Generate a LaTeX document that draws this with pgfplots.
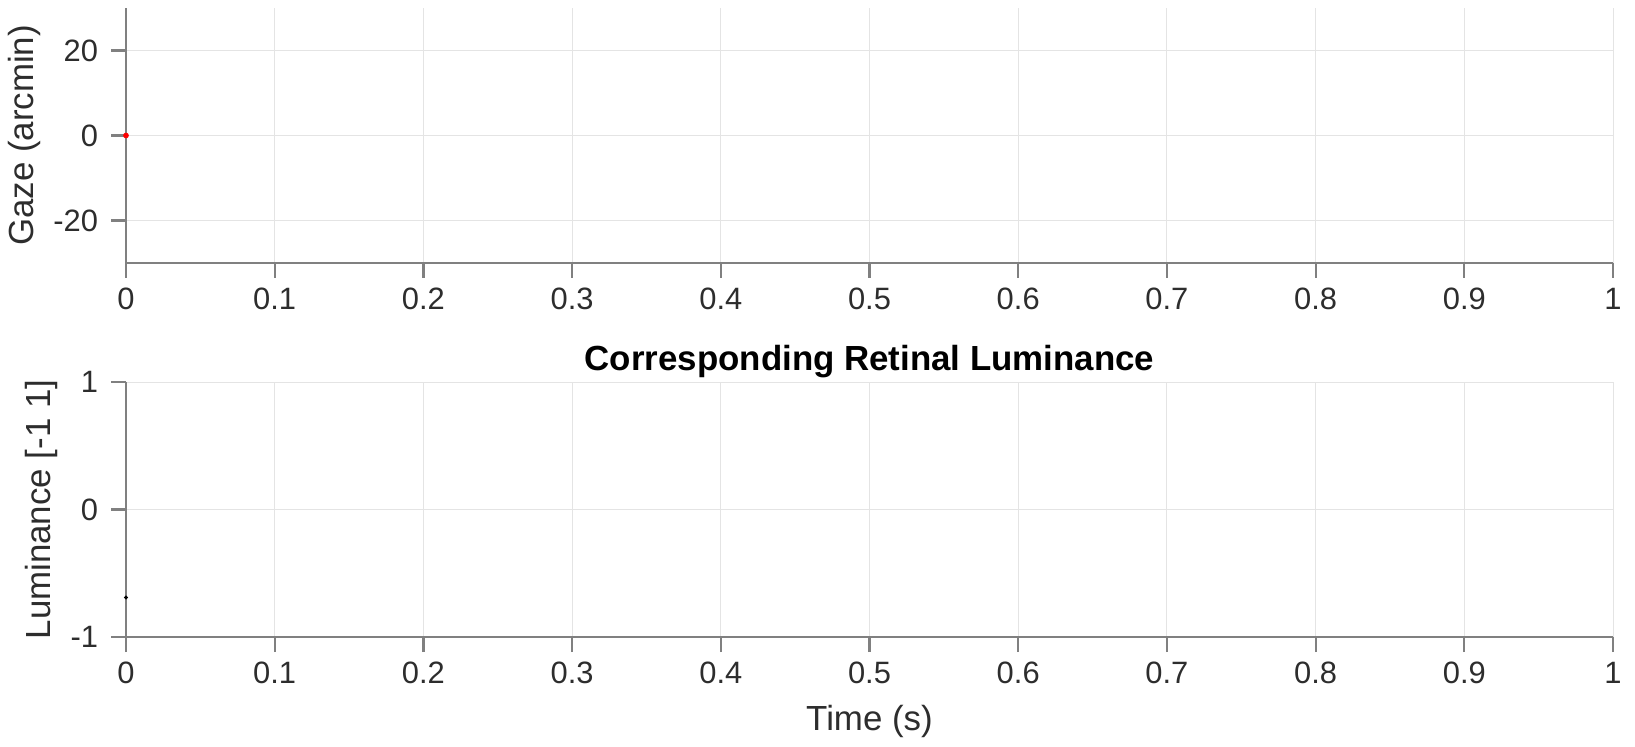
\documentclass[border=0pt]{standalone}
\usepackage{fontspec}
\setmainfont{Liberation Sans}
\usepackage{pgfplots}
\pgfplotsset{compat=1.18}
\definecolor{axisgray}{RGB}{128,128,128}
\definecolor{labelgray}{RGB}{45,45,45}
\definecolor{gridgray}{RGB}{228,228,228}
\tikzset{lab/.style={font=\fontsize{17.5}{19}\selectfont, text=labelgray}}
\pgfplotsset{
  mstyle/.style={
    width=743.5bp, height=127.5bp, scale only axis,
    axis x line=bottom, axis y line=left,
    axis line style={axisgray, line width=1.1bp, -},
    xmin=0, xmax=1,
    xtick={0,0.1,...,1.01},
    tick align=outside, major tick length=7.5bp,
    tick style={axisgray, line width=1.1bp},
    grid=major, major grid style={gridgray, line width=0.5bp},
    ticklabel style={font=\fontsize{15.5}{17}\selectfont, text=labelgray},
    xticklabel style={/pgf/number format/fixed, yshift=-1.5bp},
    yticklabel style={xshift=-3bp},
    /pgf/number format/assume math mode=true,
    clip=false,
  },
}
\begin{document}
\begin{tikzpicture}
\path[use as bounding box] (0,0) rectangle (817.5bp,373.5bp);
\begin{axis}[mstyle, at={(63bp,242bp)}, anchor=south west,
  ymin=-30, ymax=30, ytick={-20,0,20},
  ylabel={Gaze (arcmin)},
  every axis y label/.style={at={(axis description cs:-0.068,0.5)}, rotate=90, anchor=center, lab}]
\addplot[only marks, mark=*, mark size=1.2bp, red] coordinates {(0,0)};
\end{axis}
\begin{axis}[mstyle, at={(63bp,55bp)}, anchor=south west,
  ymin=-1, ymax=1, ytick={-1,0,1},
  title={Corresponding Retinal Luminance},
  every axis title/.style={at={(axis description cs:0.5,1.082)}, anchor=center,
    font=\bfseries\fontsize{17.5}{19}\selectfont},
  xlabel={Time (s)},
  every axis x label/.style={at={(axis description cs:0.5,-0.333)}, anchor=center, lab},
  ylabel={Luminance [-1 1]},
  every axis y label/.style={at={(axis description cs:-0.0565,0.5)}, rotate=90, anchor=center, lab}]
\addplot[only marks, mark=*, mark size=0.8bp, black] coordinates {(0,-0.69)};
\end{axis}
\end{tikzpicture}
\end{document}
